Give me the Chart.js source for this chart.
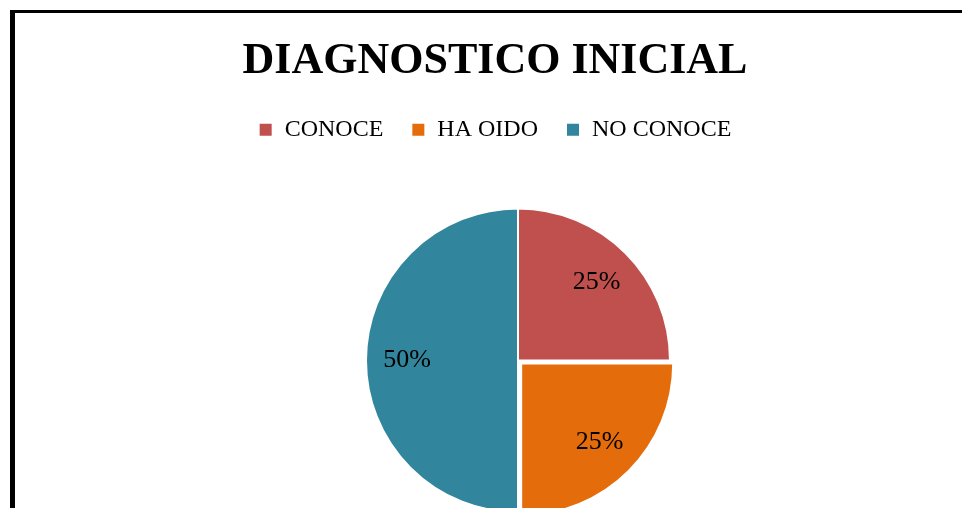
<!DOCTYPE html>
<html lang="es">
<head>
    <meta charset="UTF-8">
    <title>Diagnostico inicial</title>
    <script src="https://cdn.jsdelivr.net/npm/chart.js"></script>
    <style>
        body {
            margin: 0;
            background-color: #fff;
            overflow: hidden;
        }

        .marco {
            position: absolute;
            left: 10px;
            top: 10px;
            width: 960px;
            height: 700px;
            border-left: 5px solid #000;
            border-top: 3px solid #000;
        }

        .chart-container {
            width: 960px;
            height: 556px;
        }
    </style>
</head>
<body>

    <div class="marco">
        <div class="chart-container">
            <canvas id="pieChart"></canvas>
        </div>
    </div>

    <script>
        // Datos del gráfico
        const categorias = ['CONOCE', 'HA OIDO', 'NO CONOCE'];
        const valores = [25, 25, 50];
        const colores = ['#C0504D', '#E46C0A', '#31859C'];

        // Mueve el área del pastel a la derecha sin mover título ni leyenda
        const moverArea = {
            id: 'moverArea',
            afterLayout(chart, args, opts) {
                chart.chartArea.left += opts.left || 0;
                chart.chartArea.width = chart.chartArea.right - chart.chartArea.left;
            }
        };

        // Etiquetas de porcentaje dentro de cada porción
        const etiquetas = {
            id: 'etiquetas',
            afterDatasetsDraw(chart) {
                const ctx = chart.ctx;
                const meta = chart.getDatasetMeta(0);
                const data = chart.data.datasets[0].data;
                const total = data.reduce((a, b) => a + b, 0);
                ctx.save();
                ctx.font = '26px "Liberation Serif", serif';
                ctx.fillStyle = '#000';
                ctx.textAlign = 'center';
                ctx.textBaseline = 'middle';
                meta.data.forEach((arc, i) => {
                    const p = arc.getProps(['x', 'y', 'startAngle', 'endAngle', 'outerRadius']);
                    const mid = (p.startAngle + p.endAngle) / 2;
                    // Chart.js desplaza la porción offset/4 px
                    const r = p.outerRadius * 0.73 + (arc.options.offset || 0) / 4;
                    const pct = Math.round(data[i] / total * 100) + '%';
                    ctx.fillText(pct, p.x + Math.cos(mid) * r, p.y + Math.sin(mid) * r);
                });
                ctx.restore();
            }
        };

        const ctx = document.getElementById('pieChart').getContext('2d');
        const pieChart = new Chart(ctx, {
            type: 'pie',
            data: {
                labels: categorias,
                datasets: [{
                    data: valores,
                    backgroundColor: colores,
                    borderColor: '#fff',
                    borderWidth: 2,
                    offset: [0, 18, 0]
                }]
            },
            options: {
                responsive: true,
                maintainAspectRatio: false,
                animation: false,
                radius: 152,
                plugins: {
                    moverArea: { left: 46 },
                    title: {
                        display: true,
                        text: 'DIAGNOSTICO INICIAL',
                        color: '#000',
                        font: { family: '"Liberation Serif", serif', size: 44, weight: 'bold' },
                        padding: { top: 22, bottom: 2 }
                    },
                    legend: {
                        position: 'top',
                        labels: {
                            color: '#000',
                            boxWidth: 14,
                            boxHeight: 14,
                            padding: 28,
                            font: { family: '"Liberation Serif", serif', size: 24 }
                        }
                    },
                    tooltip: { enabled: false }
                }
            },
            plugins: [moverArea, etiquetas]
        });
    </script>

</body>
</html>
